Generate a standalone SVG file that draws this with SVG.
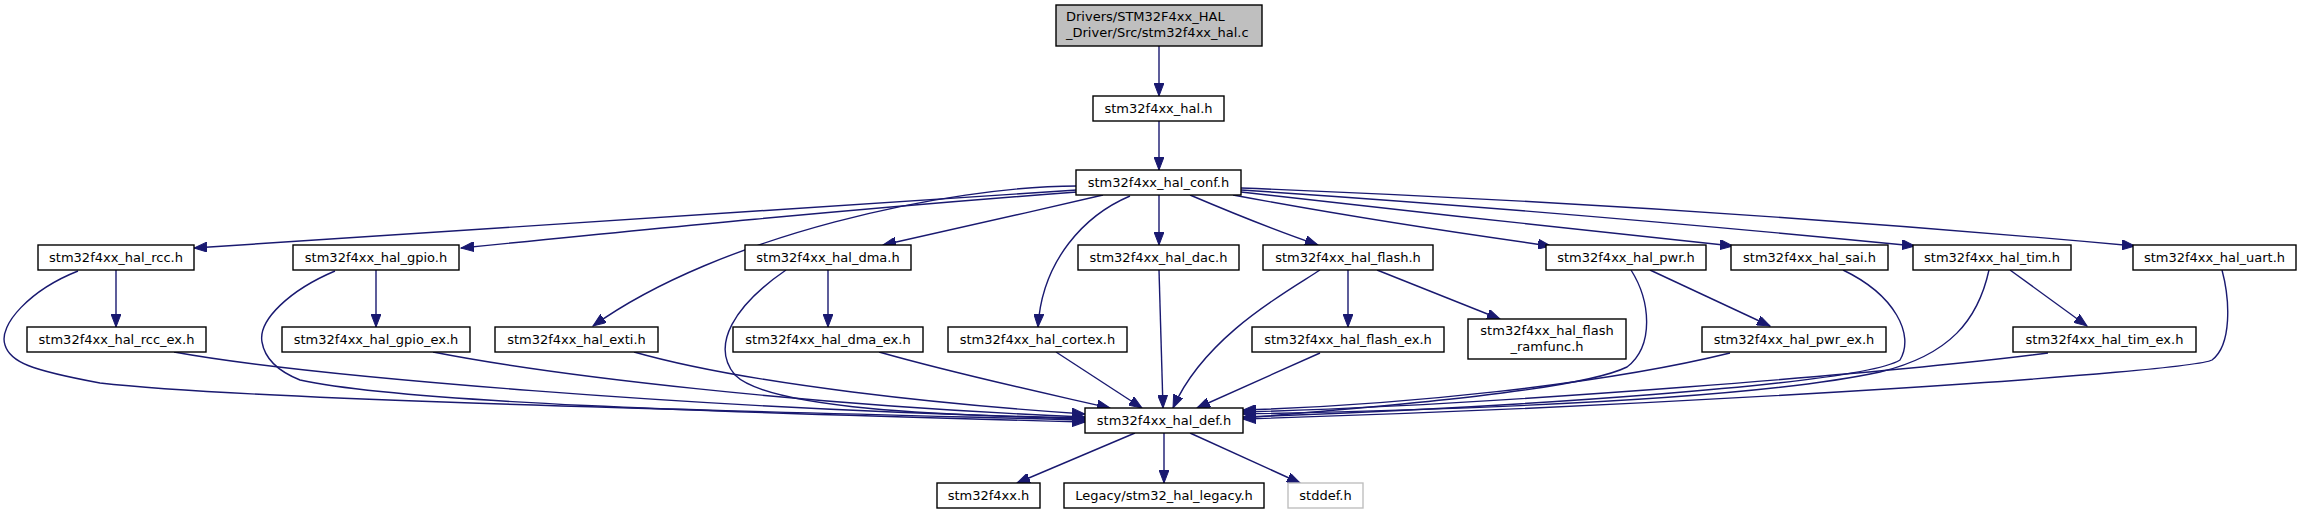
<svg xmlns="http://www.w3.org/2000/svg" width="2302" height="515" viewBox="0 0 2302 515">
<style>
.n rect{fill:#ffffff;stroke:#000000;stroke-width:1.4}
.n text{font-family:"DejaVu Sans",sans-serif;font-size:13px;fill:#000000;text-anchor:middle}
.root rect{fill:#bfbfbf}
.root text{text-anchor:start}
.ext rect{stroke:#bfbfbf}
.e path{fill:none;stroke:#191970;stroke-width:1.4;marker-end:url(#ah)}
</style>
<defs>
<marker id="ah" markerUnits="userSpaceOnUse" markerWidth="14" markerHeight="10" refX="13" refY="5" orient="auto">
<path d="M0,0 L13,5 L0,10 z" fill="#191970" stroke="#191970" stroke-width="1"/>
</marker>
</defs>
<rect width="2302" height="515" fill="#ffffff"/>
<g class="e" id="edges">
<path d="M1159,46 L1159,96"/>
<path d="M1159,121 L1159,170"/>
<path d="M1077,190 C 800,207 500,228 194,248"/>
<path d="M1077,192 C 850,209 650,229 461,248"/>
<path d="M1077,186 C 950,186 720,235 593,326"/>
<path d="M1103,195 C 1030,212 950,230 883,245"/>
<path d="M1130,196 C 1085,215 1042,260 1038,327"/>
<path d="M1159,195 L1159,245"/>
<path d="M1190,195 C 1230,212 1280,232 1318,245"/>
<path d="M1233,195 C 1340,215 1450,232 1551,246"/>
<path d="M1241,192 C 1400,210 1580,230 1733,246"/>
<path d="M1241,190 C 1470,205 1700,225 1915,246"/>
<path d="M1241,188 C 1550,200 1850,220 2135,246"/>
<path d="M116,270 L116,327"/>
<path d="M78,271 C 30,290 -2,325 5,345 C 10,362 30,370 100,383 C 250,400 700,410 1085,420"/>
<path d="M174,352 C 300,375 700,410 1085,418"/>
<path d="M376,270 L376,327"/>
<path d="M335,271 C 290,290 258,320 262,342 C 265,360 280,372 300,380 C 400,402 700,412 1085,422"/>
<path d="M433,352 C 550,375 800,405 1085,417"/>
<path d="M634,352 C 750,385 950,405 1085,414"/>
<path d="M828,270 L828,327"/>
<path d="M786,270 C 735,305 710,345 735,375 C 770,410 950,415 1085,419"/>
<path d="M879,352 C 960,375 1040,392 1110,408"/>
<path d="M1056,352 L1142,408"/>
<path d="M1159,270 L1163,408"/>
<path d="M1320,270 C 1290,290 1205,335 1173,408"/>
<path d="M1348,270 L1348,327"/>
<path d="M1377,270 L1500,319"/>
<path d="M1320,353 L1197,408"/>
<path d="M1631,270 C 1650,300 1655,345 1627,367 C 1580,390 1400,405 1243,418"/>
<path d="M1650,270 L1770,326"/>
<path d="M1730,353 C 1600,385 1400,405 1243,410"/>
<path d="M1843,270 C 1895,295 1915,335 1900,360 C 1860,385 1500,408 1243,417"/>
<path d="M1989,270 C 1978,320 1950,355 1880,372 C 1750,400 1450,410 1243,414"/>
<path d="M2010,270 L2087,326"/>
<path d="M2048,353 C 1900,372 1500,405 1243,412"/>
<path d="M2222,270 C 2230,300 2232,345 2212,360 C 2190,372 1700,405 1243,419"/>
<path d="M1135,433 L1017,483"/>
<path d="M1164,433 L1164,483"/>
<path d="M1190,433 L1300,483"/>
</g>
<g class="n root" id="n_root"><rect x="1056" y="5" width="206" height="41"/><text x="1066" y="21">Drivers/STM32F4xx_HAL</text><text x="1066" y="37">_Driver/Src/stm32f4xx_hal.c</text></g>
<g class="n" id="n_hal"><rect x="1093" y="96" width="131" height="25"/><text x="1158.5" y="113">stm32f4xx_hal.h</text></g>
<g class="n" id="n_conf"><rect x="1076" y="170" width="165" height="25"/><text x="1158.5" y="187">stm32f4xx_hal_conf.h</text></g>
<g class="n" id="n_rcc"><rect x="38" y="245" width="156" height="25"/><text x="116" y="262">stm32f4xx_hal_rcc.h</text></g>
<g class="n" id="n_gpio"><rect x="293" y="245" width="166" height="25"/><text x="376" y="262">stm32f4xx_hal_gpio.h</text></g>
<g class="n" id="n_dma"><rect x="745" y="245" width="166" height="25"/><text x="828" y="262">stm32f4xx_hal_dma.h</text></g>
<g class="n" id="n_dac"><rect x="1078" y="245" width="161" height="25"/><text x="1158.5" y="262">stm32f4xx_hal_dac.h</text></g>
<g class="n" id="n_flash"><rect x="1263" y="245" width="170" height="25"/><text x="1348" y="262">stm32f4xx_hal_flash.h</text></g>
<g class="n" id="n_pwr"><rect x="1546" y="245" width="160" height="25"/><text x="1626" y="262">stm32f4xx_hal_pwr.h</text></g>
<g class="n" id="n_sai"><rect x="1731" y="245" width="157" height="25"/><text x="1809.5" y="262">stm32f4xx_hal_sai.h</text></g>
<g class="n" id="n_tim"><rect x="1913" y="245" width="158" height="25"/><text x="1992" y="262">stm32f4xx_hal_tim.h</text></g>
<g class="n" id="n_uart"><rect x="2133" y="245" width="163" height="25"/><text x="2214.5" y="262">stm32f4xx_hal_uart.h</text></g>
<g class="n" id="n_rcc_ex"><rect x="27" y="327" width="179" height="25"/><text x="116.5" y="344">stm32f4xx_hal_rcc_ex.h</text></g>
<g class="n" id="n_gpio_ex"><rect x="282" y="327" width="188" height="25"/><text x="376" y="344">stm32f4xx_hal_gpio_ex.h</text></g>
<g class="n" id="n_exti"><rect x="495" y="327" width="163" height="25"/><text x="576.5" y="344">stm32f4xx_hal_exti.h</text></g>
<g class="n" id="n_dma_ex"><rect x="733" y="327" width="190" height="25"/><text x="828" y="344">stm32f4xx_hal_dma_ex.h</text></g>
<g class="n" id="n_cortex"><rect x="948" y="327" width="179" height="25"/><text x="1037.5" y="344">stm32f4xx_hal_cortex.h</text></g>
<g class="n" id="n_flash_ex"><rect x="1252" y="327" width="192" height="25"/><text x="1348" y="344">stm32f4xx_hal_flash_ex.h</text></g>
<g class="n" id="n_ramfunc"><rect x="1468" y="319" width="158" height="40"/><text x="1547" y="335">stm32f4xx_hal_flash</text><text x="1547" y="351">_ramfunc.h</text></g>
<g class="n" id="n_pwr_ex"><rect x="1702" y="327" width="184" height="25"/><text x="1794" y="344">stm32f4xx_hal_pwr_ex.h</text></g>
<g class="n" id="n_tim_ex"><rect x="2013" y="327" width="183" height="25"/><text x="2104.5" y="344">stm32f4xx_hal_tim_ex.h</text></g>
<g class="n" id="n_def"><rect x="1085" y="408" width="158" height="25"/><text x="1164" y="425">stm32f4xx_hal_def.h</text></g>
<g class="n" id="n_f4xx"><rect x="937" y="483" width="103" height="25"/><text x="988.5" y="500">stm32f4xx.h</text></g>
<g class="n" id="n_legacy"><rect x="1064" y="483" width="200" height="25"/><text x="1164" y="500">Legacy/stm32_hal_legacy.h</text></g>
<g class="n ext" id="n_stddef"><rect x="1288" y="483" width="75" height="25"/><text x="1325.5" y="500">stddef.h</text></g>
</svg>
